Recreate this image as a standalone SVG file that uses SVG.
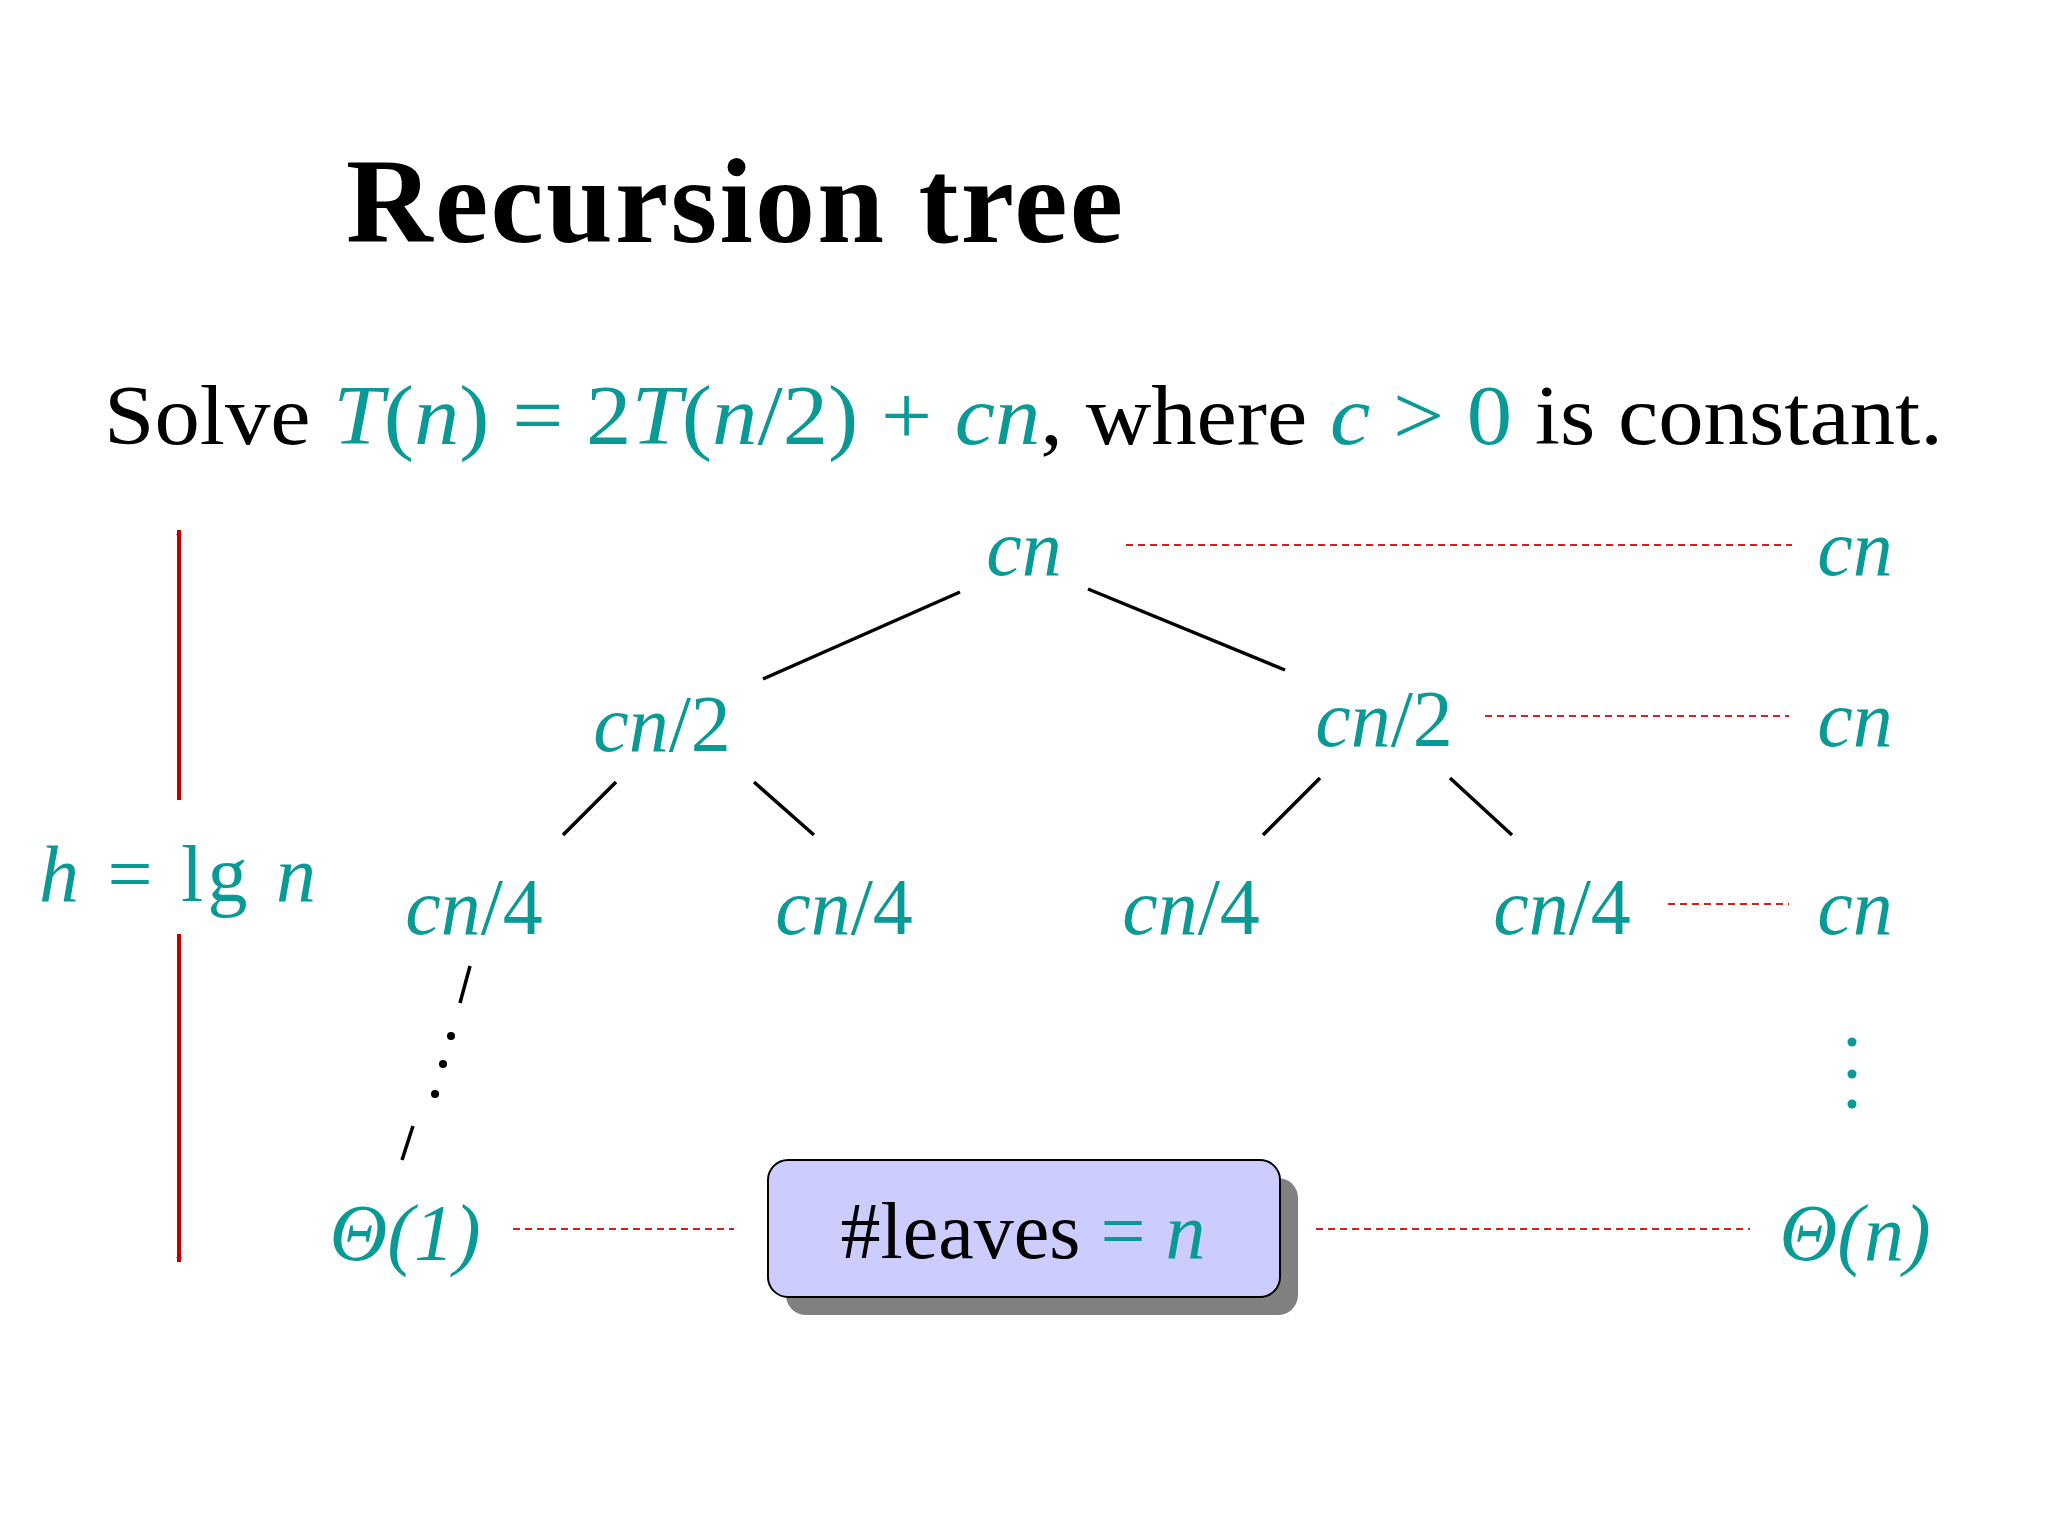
<svg xmlns="http://www.w3.org/2000/svg" width="2048" height="1536" viewBox="0 0 2048 1536">
<style>
text{font-family:"Liberation Serif","Times New Roman",serif}
.t{fill:#0a9a96}
.i{font-style:italic}
.n{font-size:80px;fill:#0a9a96;font-style:italic;text-anchor:middle}
.e{stroke:#000;stroke-width:3.5}
.r{stroke:#d02020;stroke-width:1.8;stroke-dasharray:7 5}
.d{fill:#000}
</style>
<defs>
<marker id="ah" viewBox="0 0 10 10" refX="9" refY="5" markerWidth="6" markerHeight="8" orient="auto-start-reverse" markerUnits="userSpaceOnUse"><path d="M0,0 L10,5 L0,10 Z" fill="#c00000"/></marker>
</defs>
<rect width="2048" height="1536" fill="#fff"/>
<text x="346" y="242" font-size="120" font-weight="bold" textLength="777">Recursion tree</text>
<text x="104" y="444" font-size="84" textLength="1839" lengthAdjust="spacingAndGlyphs">Solve <tspan class="t"><tspan class="i">T</tspan>(<tspan class="i">n</tspan>) = 2<tspan class="i">T</tspan>(<tspan class="i">n</tspan>/2) + <tspan class="i">cn</tspan></tspan>, where <tspan class="t"><tspan class="i">c</tspan> &gt; 0</tspan> is constant.</text>
<g id="connectors">
<line class="e" x1="960" y1="592" x2="763" y2="679"/>
<line class="e" x1="1088" y1="589" x2="1285" y2="670"/>
<line class="e" x1="616" y1="782" x2="563" y2="835"/>
<line class="e" x1="754" y1="782" x2="814" y2="835"/>
<line class="e" x1="1320" y1="778" x2="1263" y2="835"/>
<line class="e" x1="1450" y1="778" x2="1512" y2="835"/>
<line class="e" x1="470" y1="966" x2="460" y2="1003"/>
<line class="e" x1="413" y1="1126" x2="402" y2="1160"/>
<circle class="d" cx="451" cy="1036" r="4"/><circle class="d" cx="443" cy="1064" r="4"/><circle class="d" cx="435" cy="1094" r="4"/>
<circle class="t" cx="1852" cy="1042" r="4.5"/><circle class="t" cx="1852" cy="1074" r="4.5"/><circle class="t" cx="1852" cy="1104" r="4.5"/>
<line class="r" x1="1126" y1="545" x2="1792" y2="545"/>
<line class="r" x1="1485" y1="716" x2="1789" y2="716"/>
<line class="r" x1="1668" y1="904" x2="1789" y2="904"/>
<line class="r" x1="513" y1="1229" x2="734" y2="1229"/>
<line class="r" x1="1316" y1="1229" x2="1750" y2="1229"/>
<line x1="179" y1="800" x2="179" y2="530" stroke="#c00000" stroke-width="4" marker-end="url(#ah)"/>
<line x1="179" y1="934" x2="179" y2="1262" stroke="#c00000" stroke-width="4" marker-end="url(#ah)"/>
</g>
<g id="n-root"><text class="n" x="1024" y="575">cn</text></g>
<g id="s1"><text class="n" x="1855" y="575">cn</text></g>
<g id="n-l"><text class="n" x="662" y="751">cn<tspan font-style="normal">/2</tspan></text></g>
<g id="n-r"><text class="n" x="1384" y="746">cn<tspan font-style="normal">/2</tspan></text></g>
<g id="s2"><text class="n" x="1855" y="746">cn</text></g>
<g id="n-ll"><text class="n" x="474" y="934">cn<tspan font-style="normal">/4</tspan></text></g>
<g id="n-lr"><text class="n" x="844" y="934">cn<tspan font-style="normal">/4</tspan></text></g>
<g id="n-rl"><text class="n" x="1191" y="934">cn<tspan font-style="normal">/4</tspan></text></g>
<g id="n-rr"><text class="n" x="1562" y="934">cn<tspan font-style="normal">/4</tspan></text></g>
<g id="s3"><text class="n" x="1855" y="934">cn</text></g>
<g id="leaf"><text class="n" x="405" y="1260" font-style="normal">Θ(1)</text></g>
<g id="s4"><text class="n" x="1855" y="1260" font-style="normal">Θ(<tspan font-style="italic">n</tspan>)</text></g>
<g id="h"><text x="39" y="901" font-size="80" class="t" textLength="277"><tspan class="i">h</tspan> = lg <tspan class="i">n</tspan></text></g>
<g id="box">
<rect x="786" y="1178" width="512" height="137" rx="20" fill="#808080"/>
<rect x="768" y="1160" width="512" height="137" rx="20" fill="#ccccff" stroke="#000" stroke-width="2"/>
<text x="1023" y="1258" font-size="80" text-anchor="middle">#leaves <tspan class="t">= <tspan class="i">n</tspan></tspan></text>
</g>
</svg>
